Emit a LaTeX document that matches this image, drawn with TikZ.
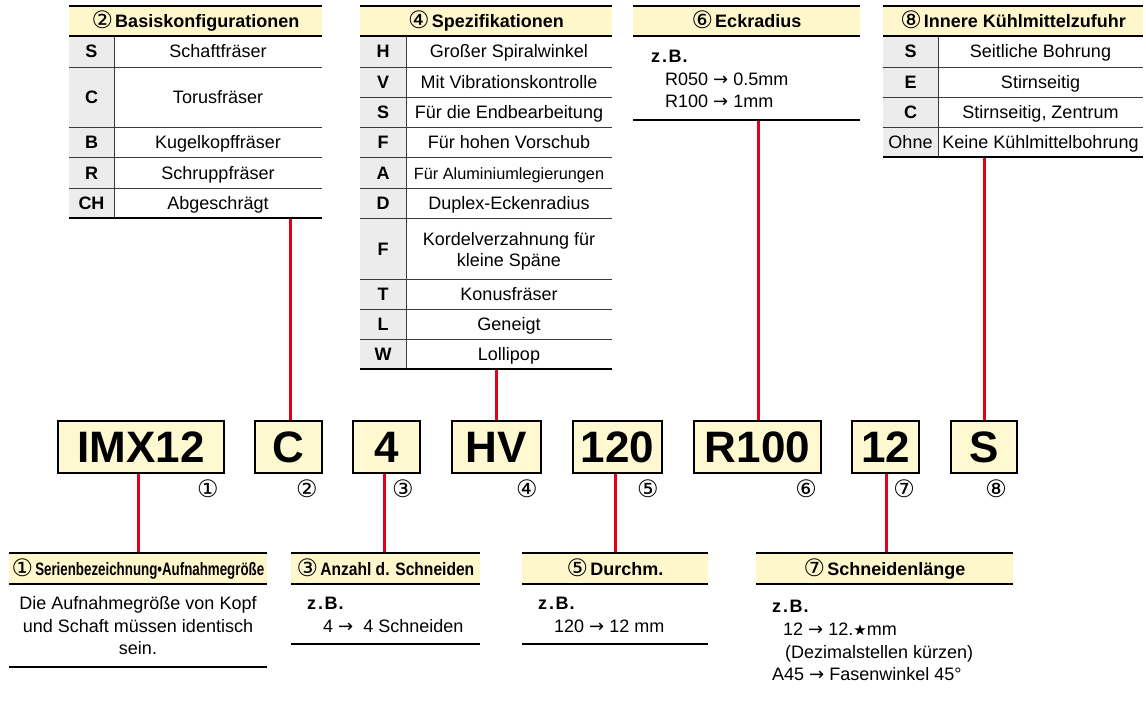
\documentclass[tikz,border=0pt]{standalone}
\usepackage{fontspec}
\usepackage{graphicx}
\setmainfont{Liberation Sans}
\newfontfamily\dv{DejaVu Sans}
\usetikzlibrary{backgrounds}
\definecolor{hdr}{HTML}{FFF7CC}
\definecolor{bx}{HTML}{FFF9D2}
\definecolor{gcol}{HTML}{ECECEC}
\definecolor{lnred}{HTML}{E50016}
\definecolor{rulec}{HTML}{3A3A3A}
\tikzset{
  thickrule/.style={line width=2.2pt, draw=black},
  thinrule/.style={line width=0.9pt, draw=rulec},
  lettxt/.style={font=\bfseries\fontsize{18}{22}\selectfont, inner sep=0, text height=13pt, text depth=0pt},
  rowtxt/.style={font=\fontsize{18}{22}\selectfont, inner sep=0, text height=13pt, text depth=0pt},
  hdrtxt/.style={font=\bfseries\fontsize{18}{22}\selectfont, inner sep=0, text height=13pt, text depth=0pt},
  codebox/.style={draw=black, line width=2pt, fill=bx, inner sep=0, minimum height=52pt,
    font=\bfseries\fontsize{44}{44}\selectfont, text height=31.5pt, text depth=0pt},
  numtxt/.style={font=\dv\fontsize{24}{24}\selectfont, inner sep=0},
  bodytxt/.style={font=\fontsize{18}{22}\selectfont, inner sep=0, anchor=west, text height=13pt, text depth=0pt},
  zbtxt/.style={bodytxt, font=\bfseries\fontsize{18}{22}\selectfont},
  redline/.style={draw=lnred, line width=3pt},
}
\newcommand{\cn}[1]{\raisebox{-1.5pt}{\dv\mdseries\fontsize{24}{24}\selectfont #1}\kern2pt}
\newcommand{\zb}{z\kern2pt.\kern1.5ptB\kern1pt.}
\newcommand{\ar}{{\dv\fontsize{18}{18}\selectfont →}}
% name, x0, xs, x1, ytop, ybot, letter, text
\newcommand{\trow}[8]{%
  \begin{scope}[on background layer]\fill[gcol] (#2,#5) rectangle (#3,#6);\end{scope}
  \draw[thinrule] (#2,#6) -- (#4,#6);
  \draw[thinrule] (#3,#5) -- (#3,#6);
  \node[lettxt] (#1l) at ({(#2+#3)/2},{(#5+#6)/2}) {#7};
  \node[rowtxt] (#1t) at ({(#3+#4)/2},{(#5+#6)/2}) {#8};
}
% name, x0, x1, ytop, ybot, text
\newcommand{\thead}[6]{%
  \begin{scope}[on background layer]\fill[hdr] (#2,#4) rectangle (#3,#5);\end{scope}
  \draw[thickrule] (#2,#4) -- (#3,#4);
  \draw[thickrule] (#2,#5) -- (#3,#5);
  \node[hdrtxt] (#1) at ({(#2+#3)/2},{(#4+#5)/2}) {#6};
}
\begin{document}
\begin{tikzpicture}[x=1pt,y=-1pt]
\useasboundingbox (0,0) rectangle (1146,701);

% ---------- Table 2
\thead{h2}{69}{322}{6}{36}{\cn{②}Basiskonfigurationen}
\trow{r2a}{69}{114}{322}{36}{67}{S}{Schaftfräser}
\trow{r2b}{69}{114}{322}{67}{127}{C}{Torusfräser}
\trow{r2c}{69}{114}{322}{127}{157}{B}{Kugelkopffräser}
\trow{r2d}{69}{114}{322}{157}{188}{R}{Schruppfräser}
\trow{r2e}{69}{114}{322}{188}{218}{CH}{Abgeschrägt}
\draw[thickrule] (69,218) -- (322,218);
\coordinate (t2b) at (290,218);

% ---------- Table 4
\thead{h4}{360}{612}{6}{36}{\cn{④}Spezifikationen}
\trow{r4a}{360}{406}{612}{36}{67}{H}{Großer Spiralwinkel}
\trow{r4b}{360}{406}{612}{67}{97}{V}{Mit Vibrationskontrolle}
\trow{r4c}{360}{406}{612}{97}{127}{S}{Für die Endbearbeitung}
\trow{r4d}{360}{406}{612}{127}{157}{F}{Für hohen Vorschub}
\trow{r4e}{360}{406}{612}{157}{188}{A}{\fontsize{16.3}{20}\selectfont Für Aluminiumlegierungen}
\trow{r4f}{360}{406}{612}{188}{218}{D}{Duplex-Eckenradius}
\trow{r4g}{360}{406}{612}{218}{279}{F}{}
\node[rowtxt] (r4g1) at (509,239) {Kordelverzahnung für};
\node[rowtxt] (r4g2) at (509,260) {kleine Späne};
\trow{r4h}{360}{406}{612}{279}{309}{T}{Konusfräser}
\trow{r4i}{360}{406}{612}{309}{339}{L}{Geneigt}
\trow{r4j}{360}{406}{612}{339}{369}{W}{Lollipop}
\draw[thickrule] (360,369) -- (612,369);
\coordinate (t4b) at (496,369);

% ---------- Table 6
\thead{h6}{633}{860}{6}{36}{\cn{⑥}Eckradius}
\node[zbtxt] (e6z) at (651,56) {\zb};
\node[bodytxt] (e6a) at (665,79) {R050 \ar{} 0.5mm};
\node[bodytxt] (e6b) at (665,101) {R100 \ar{} 1mm};
\draw[thickrule] (633,120) -- (860,120);
\coordinate (t6b) at (758,120);

% ---------- Table 8
\thead{h8}{883}{1143}{6}{36}{\cn{⑧}Innere Kühlmittelzufuhr}
\trow{r8a}{883}{938}{1143}{36}{67}{S}{Seitliche Bohrung}
\trow{r8b}{883}{938}{1143}{67}{97}{E}{Stirnseitig}
\trow{r8c}{883}{938}{1143}{97}{127}{C}{Stirnseitig, Zentrum}
\trow{r8d}{883}{938}{1143}{127}{157}{\mdseries Ohne}{Keine Kühlmittelbohrung}
\draw[thickrule] (883,157) -- (1143,157);
\coordinate (t8b) at (984,157);

% ---------- Code boxes
\node[codebox, minimum width=166pt] (imx) at (141,447) {IMX12};
\node[codebox, minimum width=67pt] (bc) at (288.5,447) {C};
\node[codebox, minimum width=67pt] (b4) at (386.5,447) {4};
\node[codebox, minimum width=89pt] (bhv) at (496.5,447) {HV};
\node[codebox, minimum width=89pt] (b120) at (617.5,447) {120};
\node[codebox, minimum width=127pt] (br100) at (757.5,447) {R100};
\node[codebox, minimum width=67pt] (b12) at (885.5,447) {12};
\node[codebox, minimum width=66pt] (bs) at (984,447) {S};

\node[numtxt] (n1) at (208,489) {①};
\node[numtxt] (n2) at (307,489) {②};
\node[numtxt] (n3) at (403,489) {③};
\node[numtxt] (n4) at (527,489) {④};
\node[numtxt] (n5) at (648,489) {⑤};
\node[numtxt] (n6) at (806,489) {⑥};
\node[numtxt] (n7) at (904,489) {⑦};
\node[numtxt] (n8) at (996,489) {⑧};

% ---------- Bottom boxes
\thead{h1}{9}{267}{553}{584}{\cn{①}\resizebox{229pt}{\height}{Serienbezeichnung•Aufnahmegröße}}
\node[rowtxt] (d1a) at (138,603) {Die Aufnahmegröße von Kopf};
\node[rowtxt] (d1b) at (138,626) {und Schaft müssen identisch};
\node[rowtxt] (d1c) at (138,648) {sein.};
\draw[thickrule] (9,667) -- (267,667);
\coordinate (c1) at (138,553);

\thead{h3}{291}{480}{553}{584}{\cn{③}\resizebox{154pt}{\height}{Anzahl d. Schneiden}}
\node[zbtxt] (d3z) at (307,603) {\zb};
\node[bodytxt] (d3a) at (323,626) {4 \ar{}\ \ 4 Schneiden};
\draw[thickrule] (291,644) -- (480,644);
\coordinate (c3) at (384,553);

\thead{h5}{522}{708}{553}{584}{\cn{⑤}Durchm.}
\node[zbtxt] (d5z) at (538,603) {\zb};
\node[bodytxt] (d5a) at (554,626) {120 \ar{} 12 mm};
\draw[thickrule] (522,644) -- (708,644);
\coordinate (c5) at (615,553);

\thead{h7}{756}{1013}{553}{584}{\cn{⑦}Schneidenlänge}
\node[zbtxt] (d7z) at (772,606) {\zb};
\node[bodytxt] (d7a) at (783,629) {12 \ar{} 12.{\dv\fontsize{15}{15}\selectfont ★}mm};
\node[bodytxt] (d7b) at (785,652) {(Dezimalstellen kürzen)};
\node[bodytxt] (d7c) at (772,674) {A45 \ar{} Fasenwinkel 45°};
\coordinate (c7) at (886,553);

% ---------- Red connectors
\begin{scope}[on background layer]
\draw[redline] (t2b) -- (t2b |- bc.north);
\draw[redline] (t4b) -- (t4b |- bhv.north);
\draw[redline] (t6b) -- (t6b |- br100.north);
\draw[redline] (t8b) -- (t8b |- bs.north);
\draw[redline] (c1 |- imx.south) -- (c1);
\draw[redline] (c3 |- b4.south) -- (c3);
\draw[redline] (c5 |- b120.south) -- (c5);
\draw[redline] (c7 |- b12.south) -- (c7);
\end{scope}
\end{tikzpicture}
\end{document}
